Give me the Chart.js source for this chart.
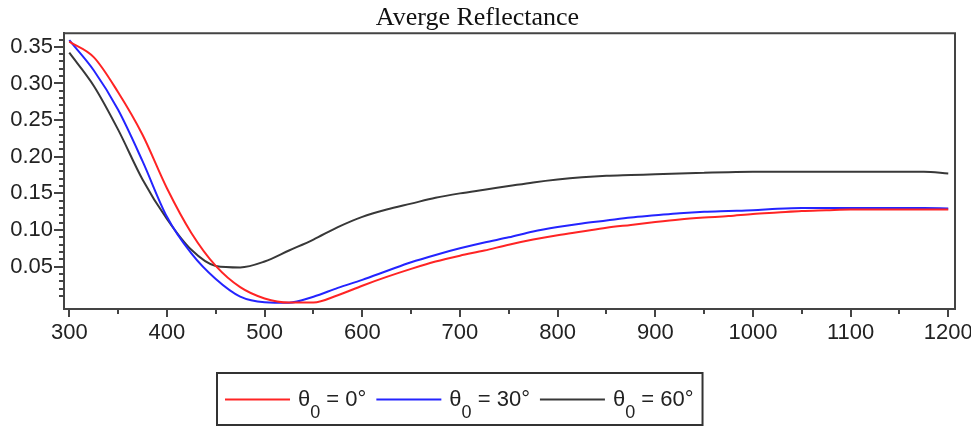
<!DOCTYPE html>
<html>
<head>
<meta charset="utf-8">
<title>Averge Reflectance</title>
<script src="https://cdn.jsdelivr.net/npm/chart.js@4.4.1/dist/chart.umd.min.js"></script>
<style>
  body { margin: 0; background: #fff; }
  canvas { display: block; }
</style>
</head>
<body>
<canvas id="reflChart" width="971" height="427"></canvas>
<script>
// wavelength (nm)
const wavelengths = [300, 325, 350, 375, 400, 425, 450, 475, 500, 525, 550, 575, 600,
  625, 650, 675, 700, 725, 750, 775, 800, 825, 850, 875, 900, 925, 950, 975, 1000,
  1025, 1050, 1075, 1100, 1125, 1150, 1175, 1200];

// incidence angles (deg)
const angles = [0, 30, 60];

// average reflectance
const refl0 = [0.357, 0.336, 0.288, 0.230, 0.157, 0.096, 0.051, 0.022, 0.0066, 0.001, 0.001, 0.011, 0.024,
  0.036, 0.047, 0.057, 0.065, 0.072, 0.080, 0.087, 0.093, 0.098, 0.103, 0.107, 0.111, 0.1145, 0.117, 0.119, 0.122,
  0.124, 0.126, 0.127, 0.128, 0.128, 0.128, 0.128, 0.128];
const refl30 = [0.359, 0.318, 0.264, 0.194, 0.118, 0.068, 0.033, 0.009, 0.0015, 0.0008, 0.009, 0.021, 0.032,
  0.044, 0.056, 0.066, 0.075, 0.083, 0.090, 0.098, 0.104, 0.109, 0.113, 0.117, 0.120, 0.123, 0.125, 0.126, 0.127,
  0.129, 0.130, 0.130, 0.130, 0.130, 0.130, 0.130, 0.1295];
const refl60 = [0.342, 0.297, 0.237, 0.169, 0.115, 0.073, 0.051, 0.049, 0.057, 0.072, 0.087, 0.104, 0.118,
  0.128, 0.136, 0.144, 0.150, 0.155, 0.160, 0.165, 0.169, 0.172, 0.174, 0.175, 0.176, 0.177, 0.178, 0.179, 0.1795,
  0.1795, 0.1795, 0.1795, 0.1795, 0.1795, 0.1795, 0.1795, 0.177];

const xTicks = [300, 400, 500, 600, 700, 800, 900, 1000, 1100, 1200];
const yTicks = [0.05, 0.10, 0.15, 0.20, 0.25, 0.30, 0.35];

const lineColors = ['#ff2424', '#2424ff', '#383838'];
const axisColor = '#444444';
const tickFont = { family: '"Liberation Sans", Arial, sans-serif', size: 22 };

const toPoints = (ys) => wavelengths.map((w, i) => ({ x: w, y: ys[i] }));

// minor tick values (between the labelled ones)
let xMinor = [];
for (let v = 350; v < 1200; v += 100) xMinor.push(v);
let yMinor = [];
for (let k = 1; k <= 36; k++) {
    if (k % 5 !== 0) yMinor.push(k / 100);
}

const frameAndMinor = {
    id: 'frameAndMinor',
    afterDraw(chart) {
        const { ctx, chartArea, scales: { x, y } } = chart;
        ctx.save();
        ctx.strokeStyle = axisColor;
        ctx.lineWidth = 2;
        ctx.beginPath();
        // top and right side of the box
        ctx.moveTo(chartArea.left, chartArea.top);
        ctx.lineTo(chartArea.right, chartArea.top);
        ctx.lineTo(chartArea.right, chartArea.bottom);
        xMinor.forEach(v => {
            const px = Math.round(x.getPixelForValue(v));
            ctx.moveTo(px, chartArea.bottom);
            ctx.lineTo(px, chartArea.bottom + 5);
        });
        yMinor.forEach(v => {
            const py = Math.round(y.getPixelForValue(v));
            ctx.moveTo(chartArea.left, py);
            ctx.lineTo(chartArea.left - 5, py);
        });
        ctx.stroke();
        ctx.restore();
    }
};

// legend with a real subscript, drawn in a framed box under the plot
const boxedLegend = {
    id: 'boxedLegend',
    afterDraw(chart) {
        const ctx = chart.ctx;
        const left = 217, top = 373, height = 52;
        const midY = 399.5;
        let x = left + 8;
        ctx.save();
        chart.data.datasets.forEach((ds, i) => {
            ctx.strokeStyle = ds.borderColor;
            ctx.lineWidth = 2;
            ctx.beginPath();
            ctx.moveTo(x, midY);
            ctx.lineTo(x + 65, midY);
            ctx.stroke();
            x += 73;

            const [head, tail] = ds.label.split('\u2080');
            ctx.fillStyle = '#222';
            ctx.textBaseline = 'alphabetic';
            ctx.font = '22px "Liberation Sans", Arial, sans-serif';
            ctx.fillText(head, x, 406);
            x += ctx.measureText(head).width;
            ctx.font = '18px "Liberation Sans", Arial, sans-serif';
            ctx.fillText('0', x, 418);
            x += ctx.measureText('0').width;
            ctx.font = '22px "Liberation Sans", Arial, sans-serif';
            ctx.fillText(tail, x, 406);
            x += ctx.measureText(tail).width;
            if (i < chart.data.datasets.length - 1) x += 10;
        });
        ctx.strokeStyle = '#333';
        ctx.lineWidth = 2;
        ctx.strokeRect(left, top, x + 9 - left, height);
        ctx.restore();
    }
};

const datasets = [refl0, refl30, refl60].map((ys, i) => ({
    label: `θ\u2080 = ${angles[i]}°`,
    data: toPoints(ys),
    borderColor: lineColors[i],
    backgroundColor: lineColors[i],
    borderWidth: 2,
    pointRadius: 0,
    cubicInterpolationMode: 'monotone',
    fill: false
}));

const reflChart = new Chart(document.getElementById('reflChart'), {
    type: 'line',
    data: { datasets: datasets },
    options: {
        responsive: false,
        animation: false,
        layout: { padding: { left: 0, right: 16, top: 0, bottom: 0 } },
        plugins: {
            legend: { display: false },
            tooltip: { enabled: false },
            title: {
                display: true,
                text: 'Averge Reflectance',
                color: '#111',
                font: { family: '"Liberation Serif", "Times New Roman", serif', size: 26, weight: 'normal' },
                padding: { top: 3, bottom: -1 }
            }
        },
        scales: {
            x: {
                type: 'linear',
                min: 294.6,
                max: 1206.9,
                afterBuildTicks: (scale) => { scale.ticks = xTicks.map(v => ({ value: v })); },
                afterFit: (scale) => {
                    scale.height = 118;
                    scale.paddingLeft = 0;
                    scale.paddingRight = 0;
                },
                ticks: {
                    color: '#222',
                    font: tickFont,
                    padding: 3,
                    maxRotation: 0,
                    autoSkip: false,
                    callback: (v) => String(v)
                },
                grid: { drawOnChartArea: false, tickLength: 8, color: axisColor, lineWidth: 2 },
                border: { display: true, color: axisColor, width: 2 }
            },
            y: {
                type: 'linear',
                min: -0.0078,
                max: 0.3686,
                afterBuildTicks: (scale) => { scale.ticks = yTicks.map(v => ({ value: v })); },
                afterFit: (scale) => {
                    scale.width = 64;
                    scale.paddingTop = 0;
                    scale.paddingBottom = 0;
                },
                ticks: {
                    color: '#222',
                    font: tickFont,
                    padding: 1,
                    callback: (v) => v.toFixed(2)
                },
                grid: { drawOnChartArea: false, tickLength: 10, color: axisColor, lineWidth: 2 },
                border: { display: true, color: axisColor, width: 2 }
            }
        }
    },
    plugins: [frameAndMinor, boxedLegend]
});
</script>
</body>
</html>
